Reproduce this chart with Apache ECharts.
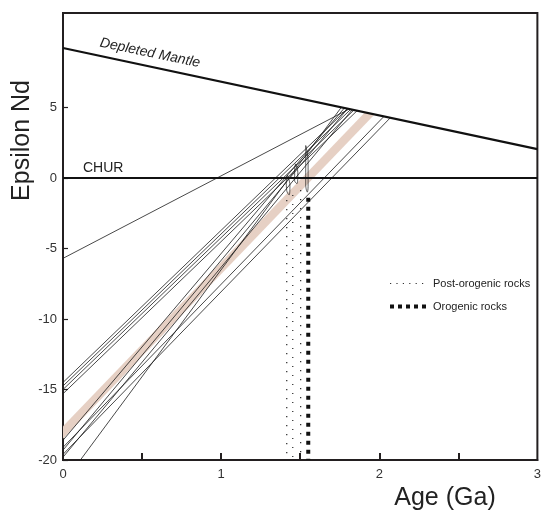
<!DOCTYPE html>
<html>
<head>
<meta charset="utf-8">
<script src="https://cdn.jsdelivr.net/npm/echarts@6/dist/echarts.min.js"></script>
<style>
html,body{margin:0;padding:0;background:#fff;}
#chart{width:544px;height:515px;}
</style>
</head>
<body>
<div id="chart"></div>
<script>
// ---- Data ----
const xTickValues = [0.5, 1, 1.5, 2, 2.5];
const xLabelValues = [0, 1, 2, 3];
const yTickValues = [-20, -15, -10, -5, 0, 5];

// Depleted mantle reference line (age, epsilon Nd)
const dmX = [0, 3];
const dmY = [9.22, 2.05];
// CHUR line
const churX = [0, 3];
const churY = [0, 0];

// Thin evolution lines: start (x,y) -> end on depleted mantle (x,y)
const lineStartX = [0, 0, 0, 0, 0, 0, 0, 0, 0, 0, 0.11];
const lineStartY = [-5.7, -14.5, -14.75, -15.0, -15.3, -18.6, -19.1, -19.3, -19.6, -19.8, -20];
const lineEndX   = [1.81, 1.80, 1.82, 1.84, 1.86, 1.78, 2.03, 1.80, 2.07, 1.83, 1.76];
const lineEndY   = [4.89, 4.92, 4.87, 4.82, 4.77, 4.97, 4.37, 4.92, 4.27, 4.85, 5.01];

// Shaded band (polygon corners)
const bandX = [0, 1.91, 1.97, 0];
const bandY = [-17.6, 4.66, 4.51, -18.5];

// Small loops near CHUR
const loop1X = [1.535, 1.55, 1.55, 1.545, 1.535, 1.535];
const loop1Y = [2.3, 1.2, -0.6, -1.0, -0.5, 2.3];
const loop2X = [1.47, 1.485, 1.48, 1.465, 1.465, 1.47];
const loop2Y = [1.0, 0.4, -0.4, -0.2, 0.6, 1.0];
const loop3X = [1.42, 1.435, 1.43, 1.415, 1.412, 1.42];
const loop3Y = [0.2, -0.5, -1.2, -0.9, -0.2, 0.2];

// Vertical age lines
const postOrogenicX = [1.415, 1.453, 1.503];
const postOrogenicTopY = [-1.56, -1.2, -0.85];
const orogenicX = [1.551];
const orogenicTopY = [-1.4];
const yBottom = -20;

// ---- Build chart ----
const FONT = '"Liberation Sans", Arial, sans-serif';
const zip = (xs, ys) => xs.map((x, i) => [x, ys[i]]);

const series = [];

series.push({
  type: 'custom',
  name: 'band',
  silent: true,
  z: 1,
  data: zip(bandX, bandY),
  renderItem: function (params, api) {
    if (params.dataIndex !== 0) return null;
    const pts = bandX.map((x, i) => api.coord([x, bandY[i]]));
    return {
      type: 'polygon',
      shape: { points: pts },
      style: { fill: '#e6d0c4', stroke: null }
    };
  },
  clip: true
});

for (let i = 0; i < lineStartX.length; i++) {
  series.push({
    type: 'line', silent: true, symbol: 'none', z: 3,
    data: [[lineStartX[i], lineStartY[i]], [lineEndX[i], lineEndY[i]]],
    lineStyle: { color: '#1a1a1a', width: 0.8 }
  });
}
[[loop1X, loop1Y], [loop2X, loop2Y], [loop3X, loop3Y]].forEach(([lx, ly]) => {
  series.push({
    type: 'line', silent: true, symbol: 'none', z: 3, smooth: 0.4,
    data: zip(lx, ly),
    lineStyle: { color: '#1a1a1a', width: 0.7 }
  });
});

series.push({
  type: 'line', silent: true, symbol: 'none', z: 4,
  data: zip(dmX, dmY),
  lineStyle: { color: '#111', width: 2.2 }
});
series.push({
  type: 'line', silent: true, symbol: 'none', z: 4,
  data: zip(churX, churY),
  lineStyle: { color: '#111', width: 2.2 }
});

postOrogenicX.forEach((x, i) => {
  series.push({
    type: 'line', name: 'Post-orogenic rocks', symbol: 'none', z: 5,
    itemStyle: { color: '#222' },
    data: [[x, postOrogenicTopY[i]], [x, yBottom]],
    lineStyle: { color: '#222', width: 1.2, type: [1.2, 7.8] }
  });
});
orogenicX.forEach((x, i) => {
  series.push({
    type: 'line', name: 'Orogenic rocks', symbol: 'none', z: 5,
    itemStyle: { color: '#111' },
    data: [[x, orogenicTopY[i]], [x, yBottom]],
    lineStyle: { color: '#111', width: 4, type: [4, 5] }
  });
});

const chart = echarts.init(document.getElementById('chart'), null, { renderer: 'canvas' });
chart.setOption({
  animation: false,
  backgroundColor: '#fff',
  grid: {
    left: 63, right: 6, top: 13, bottom: 55,
    show: true, borderColor: '#231f20', borderWidth: 2, backgroundColor: 'transparent'
  },
  legend: {
    orient: 'vertical',
    left: 383, top: 273,
    itemWidth: 38, itemHeight: 6, itemGap: 12,
    data: [
      { name: 'Post-orogenic rocks', lineStyle: { color: '#333', width: 1.2, type: [1.2, 5.2] } },
      { name: 'Orogenic rocks', lineStyle: { color: '#111', width: 4, type: [4, 4] } }
    ],
    itemStyle: { opacity: 0 },
    textStyle: { fontFamily: FONT, fontSize: 11, color: '#222' },
    selectedMode: false
  },
  xAxis: {
    type: 'value', min: 0, max: 3,
    axisLine: { show: true, onZero: false, lineStyle: { color: '#231f20', width: 2 } },
    axisTick: { show: true, inside: true, length: 7, customValues: xTickValues, lineStyle: { color: '#231f20', width: 2 } },
    axisLabel: { customValues: xLabelValues, fontFamily: FONT, fontSize: 13, color: '#333', margin: 8 },
    splitLine: { show: false }
  },
  yAxis: {
    type: 'value', min: -20, max: 11.7,
    axisLine: { show: true, onZero: false, lineStyle: { color: '#231f20', width: 2 } },
    axisTick: { show: true, inside: true, length: 5, customValues: yTickValues, lineStyle: { color: '#231f20', width: 1.2 } },
    axisLabel: { customValues: yTickValues, fontFamily: FONT, fontSize: 13, color: '#333', margin: 6 },
    splitLine: { show: false }
  },
  graphic: [
    { type: 'text', left: 10, top: 80, rotation: Math.PI / 2, originX: 0, originY: 0,
      style: { text: 'Epsilon Nd', font: '25px ' + FONT, fill: '#222', x: 0, y: 0 }, z: 10 },
    { type: 'text', x: 445, y: 498, z: 10,
      style: { text: 'Age (Ga)', font: '25px ' + FONT, fill: '#222', align: 'center', verticalAlign: 'middle' } },
    { type: 'text', x: 150, y: 53, rotation: -0.205, z: 10,
      style: { text: 'Depleted Mantle', font: 'italic 14px ' + FONT, fill: '#222', align: 'center', verticalAlign: 'middle' } },
    { type: 'text', x: 83, y: 168, z: 10,
      style: { text: 'CHUR', font: '14px ' + FONT, fill: '#222', align: 'left', verticalAlign: 'middle' } }
  ],
  series: series
});
</script>
</body>
</html>
